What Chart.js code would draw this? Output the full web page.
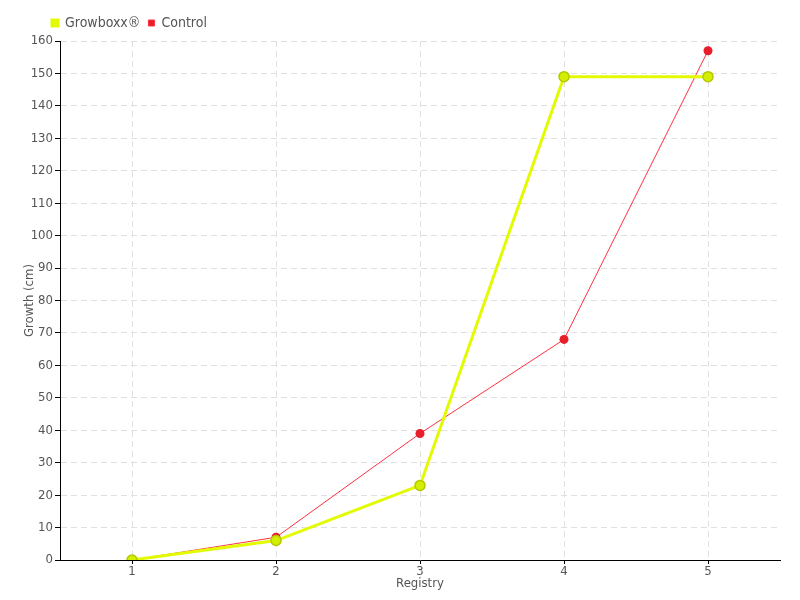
<!DOCTYPE html>
<html>
<head>
<meta charset="utf-8">
<script src="https://cdn.jsdelivr.net/npm/chart.js@4"></script>
<style>
  html, body { margin: 0; padding: 0; background: #fff; }
  #wrap { width: 800px; height: 600px; }
</style>
</head>
<body>
<div id="wrap"><canvas id="chart"></canvas></div>
<script>
// datos
const registros = ['1', '2', '3', '4', '5'];
const growboxx = [0, 6, 23, 149, 149];
const control = [0, 7, 39, 68, 157];

const fuente = '"DejaVu Sans Condensed", sans-serif';
Chart.defaults.font.family = fuente;
Chart.defaults.font.size = 13;
Chart.defaults.color = '#555';

// mover la leyenda a la derecha como en el original
const moverLeyenda = {
  id: 'moverLeyenda',
  afterLayout(chart) {
    if (chart.legend) {
      chart.legend.left += 22;
      chart.legend.top -= 1;
    }
  }
};

const ctx = document.getElementById('chart');
new Chart(ctx, {
  type: 'line',
  data: {
    labels: registros,
    datasets: [{
      label: 'Growboxx®',
      data: growboxx,
      borderColor: '#e2fb00',
      backgroundColor: '#e2fb00',
      borderWidth: 3,
      pointRadius: 5,
      pointBorderWidth: 1.5,
      pointBackgroundColor: '#d4ee00',
      pointBorderColor: '#b4c800',
      tension: 0
    }, {
      label: 'Control',
      data: control,
      borderColor: '#ff3040',
      backgroundColor: '#e81e2a',
      borderWidth: 1,
      pointRadius: 4.5,
      pointBorderWidth: 0,
      pointBackgroundColor: '#e81e2a',
      tension: 0
    }]
  },
  options: {
    responsive: true,
    maintainAspectRatio: false,
    animation: false,
    layout: { padding: { left: 22, right: 20, top: 9, bottom: 9 } },
    plugins: {
      legend: {
        position: 'top',
        align: 'start',
        labels: {
          boxWidth: 6,
          boxHeight: 6,
          padding: 8,
          font: { size: 14 },
          color: '#555'
        }
      },
      tooltip: { enabled: false }
    },
    scales: {
      x: {
        offset: true,
        grid: {
          offset: false,
          color: '#e0e0e0',
          tickColor: '#000',
          tickLength: 4
        },
        border: { color: '#000', width: 1, dash: [6, 4] },
        ticks: { padding: 0 },
        title: { display: true, text: 'Registry', padding: 0 },
        afterFit: s => { s.height = 31; }
      },
      y: {
        min: 0,
        max: 160,
        grid: {
          color: '#e0e0e0',
          tickColor: '#000',
          tickLength: 5
        },
        border: { color: '#000', width: 1, dash: [6, 4] },
        ticks: { stepSize: 10, padding: 2 },
        title: { display: true, text: 'Growth (cm)', padding: 0 },
        afterFit: s => { s.width = 38; }
      }
    }
  },
  plugins: [moverLeyenda]
});
</script>
</body>
</html>
